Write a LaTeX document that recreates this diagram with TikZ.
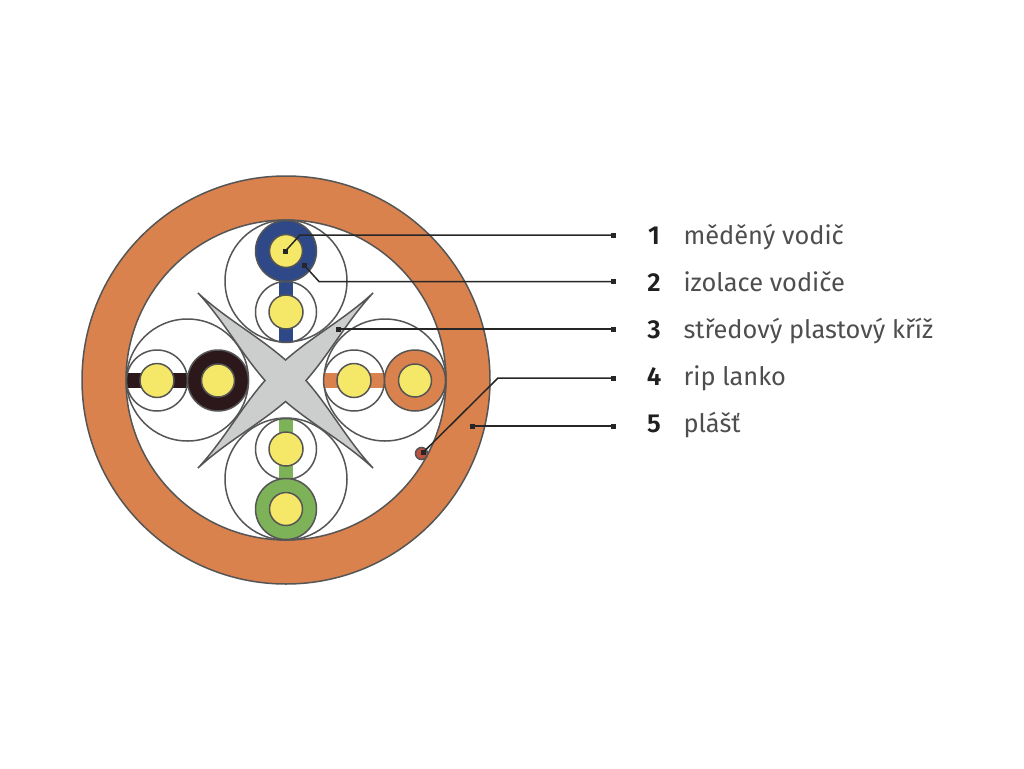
\documentclass[tikz,border=0pt]{standalone}
\usepackage{fontspec}
\setmainfont{Fira Sans}
\newfontfamily\boldnum{Fira Sans SemiBold}
\usetikzlibrary{positioning, calc}
\definecolor{cJacket}{RGB}{217,130,78}
\definecolor{cLine}{RGB}{85,85,85}
\definecolor{cCopper}{RGB}{245,232,105}
\definecolor{cBlue}{RGB}{46,72,136}
\definecolor{cBrown}{RGB}{44,24,26}
\definecolor{cOrange}{RGB}{217,130,78}
\definecolor{cGreen}{RGB}{125,178,88}
\definecolor{cCross}{RGB}{204,206,205}
\definecolor{cRip}{RGB}{190,82,62}
\definecolor{cText}{RGB}{78,78,78}
\tikzset{
	ring/.style={circle, draw=cLine, line width=1.5pt, inner sep=0pt, minimum size=#1},
	insul/.style={circle, draw=cLine, line width=1.5pt, inner sep=0pt, minimum size=61pt, fill=#1},
	copper/.style={circle, draw=cLine, line width=1.5pt, inner sep=0pt, minimum size=#1, fill=cCopper},
	leader/.style={draw=black!85, line width=1.5pt},
	tick/.style={rectangle, fill=black!85, inner sep=0pt, minimum size=5pt},
	num/.style={anchor=base, font=\boldnum\fontsize{26}{26}\selectfont, text=black!88},
	lbl/.style={anchor=base west, font=\fontsize{25.4}{26}\selectfont, text=cText},
}
\begin{document}
\begin{tikzpicture}[x=1pt, y=-1pt]
	\useasboundingbox (0,0) rectangle (1024,768);
	% jacket
	\node[ring=408pt, fill=cJacket] (jacket) at (286,380) {};
	\node[ring=320pt, fill=white] (core) at (286,380) {};
	% pair circles
	\node[ring=122pt] (topc) at (286,281) {};
	\node[ring=122pt] (botc) at (286,479) {};
	\node[ring=122pt] (lefc) at (187.5,380) {};
	\node[ring=122pt] (rigc) at (385,380) {};
	% cross
	\draw[draw=cLine, line width=1.5pt, fill=cCross]
		(198,293) .. controls (225.5,318.5) and (257.5,335.5) .. (285.5,360)
		.. controls (313.5,335.5) and (345.5,318.5) .. (373,293)
		.. controls (347.7,320) and (330.3,352.8) .. (306,380.5)
		.. controls (330.3,408.2) and (347.7,441) .. (373,468)
		.. controls (345.5,442.5) and (313.5,425.5) .. (285.5,401.5)
		.. controls (257.5,425.5) and (225.5,442.5) .. (198,468)
		.. controls (223.3,441) and (240.7,408.2) .. (265,380.5)
		.. controls (240.7,352.8) and (223.3,320) .. (198,293) -- cycle;
	% bars
	\fill[cBlue] (278.5,281) rectangle (293,342);
	\fill[cGreen] (278.5,418) rectangle (293,479);
	\fill[cBrown] (127,373) rectangle (188,388);
	\fill[cOrange] (324,373) rectangle (385,388);
	% inner circles
	\node[ring=61pt] (tops) at (286,312) {};
	\node[ring=61pt] (bots) at (286,449) {};
	\node[ring=61pt] (lefs) at (157,380.5) {};
	\node[ring=61pt] (rigs) at (354,380.5) {};
	% insulated conductors
	\node[insul=cBlue] (topi) at (286,251) {};
	\node[insul=cGreen] (boti) at (286,509) {};
	\node[insul=cBrown] (lefi) at (218,380.5) {};
	\node[insul=cOrange] (rigi) at (415,380.5) {};
	\foreach \nm/\pos in {a/{286,251}, b/{286,509}, c/{218,380.5}, d/{415,380.5}}
		\node[copper=33pt] (cu\nm) at (\pos) {};
	\foreach \nm/\pos in {e/{286,312}, f/{286,449}, g/{157,380.5}, h/{354,380.5}}
		\node[copper=34pt] (cu\nm) at (\pos) {};
	% rip cord
	\node[circle, draw=cLine, line width=1.5pt, inner sep=0pt, minimum size=12pt, fill=cRip] (rip) at (421.5,453.5) {};
	% leaders
	\node[tick] (s1) at (285,251.5) {};
	\node[tick] (s2) at (304,265) {};
	\node[tick] (s3) at (338,329) {};
	\node[tick] (s4) at (423.5,452) {};
	\node[tick] (s5) at (472,426) {};
	\node[tick] (e1) at (613,235) {};
	\node[tick] (e2) at (613,281.5) {};
	\node[tick] (e3) at (613,329) {};
	\node[tick] (e4) at (613,378) {};
	\node[tick] (e5) at (613,426) {};
	\coordinate (k1) at (300,235);
	\coordinate (k2) at (319,281.5);
	\coordinate (k4) at (498,378);
	\draw[leader] (s1.center) -- (k1) -- (e1.center);
	\draw[leader] (s2.center) -- (k2) -- (e2.center);
	\draw[leader] (s3.center) -- (e3.center);
	\draw[leader] (s4.center) -- (k4) -- (e4.center);
	\draw[leader] (s5.center) -- (e5.center);
	% legend
	\node[num] (n1) at (654,244) {1};
	\node[num] (n2) at (654,291) {2};
	\node[num] (n3) at (654,338) {3};
	\node[num] (n4) at (654,385) {4};
	\node[num] (n5) at (654,432) {5};
	\node[lbl] (t1) at (680,244) {měděný vodič};
	\node[lbl] (t2) at (680,291) {izolace vodiče};
	\node[lbl] (t3) at (680,338) {středový plastový kříž};
	\node[lbl] (t4) at (680,385) {rip lanko};
	\node[lbl] (t5) at (680,432) {plášť};
\end{tikzpicture}
\end{document}
